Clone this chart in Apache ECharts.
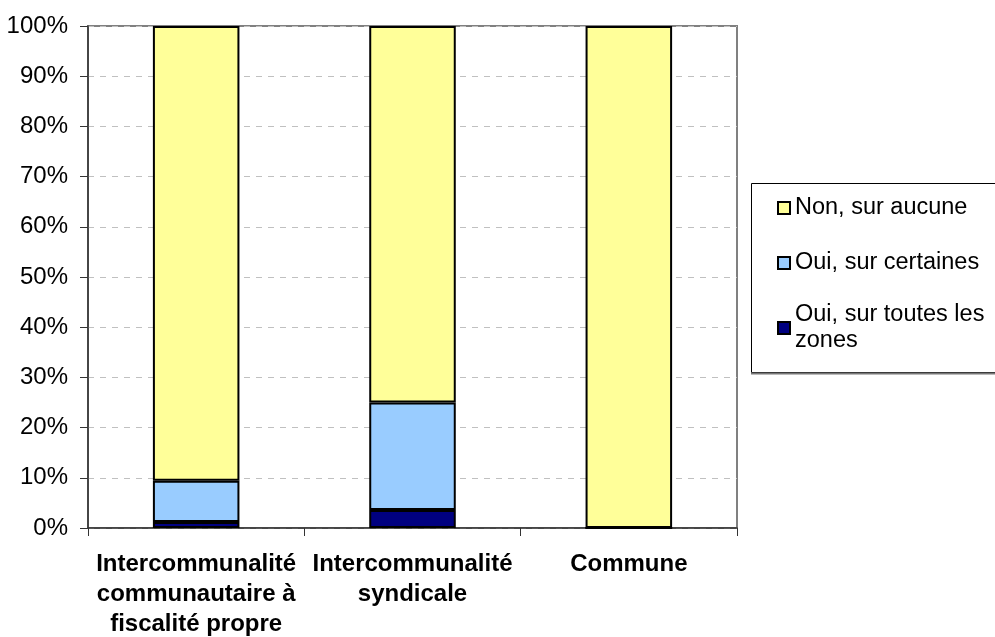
<!DOCTYPE html>
<html>
<head>
<meta charset="utf-8">
<script src="https://cdn.jsdelivr.net/npm/echarts@6/dist/echarts.min.js"></script>
<style>
  html, body { margin: 0; padding: 0; background: #ffffff; }
  #chart { width: 995px; height: 637px; }
</style>
</head>
<body>
<div id="chart"></div>
<script>
// Categories along the horizontal axis
const categories = [
  'Intercommunalité\ncommunautaire à\nfiscalité propre',
  'Intercommunalité\nsyndicale',
  'Commune'
];

// Series names
const nameToutes = 'Oui, sur toutes les zones';
const nameCertaines = 'Oui, sur certaines';
const nameAucune = 'Non, sur aucune';

// Shares in percent (stacked bottom to top)
const ouiToutes = [1.2, 3.6, 0];
const ouiCertaines = [8.2, 21.4, 0];
const nonAucune = [90.6, 75.0, 100];

// Percentage axis
const yMin = 0;
const yMax = 100;
const yStep = 10;

const FONT = 'Arial, "Liberation Sans", sans-serif';

const chart = echarts.init(document.getElementById('chart'), null, { renderer: 'canvas' });

const barBase = {
  type: 'bar',
  stack: 'total',
  barWidth: '40%',
  itemStyle: { borderColor: '#000000', borderWidth: 2 },
  emphasis: { disabled: true }
};

const legendBase = {
  orient: 'vertical',
  left: 777,
  padding: 0,
  itemWidth: 12,
  itemHeight: 12,
  icon: 'rect',
  selectedMode: false,
  textStyle: { fontFamily: FONT, fontSize: 23.5, color: '#000000', lineHeight: 26 }
};

chart.setOption({
  animation: false,
  backgroundColor: '#ffffff',
  textStyle: { fontFamily: FONT },
  grid: {
    left: 88, right: 258, top: 26, bottom: 109,
    outerBoundsMode: 'none',
    show: true,
    borderColor: '#808080',
    borderWidth: 2,
    backgroundColor: 'transparent'
  },
  xAxis: {
    type: 'category',
    data: categories,
    axisLine: { show: true, lineStyle: { color: '#333333', width: 1.5 } },
    axisTick: { show: true, length: 8, interval: 0, lineStyle: { color: '#333333' } },
    axisLabel: {
      interval: 0,
      margin: 21,
      fontFamily: FONT,
      fontSize: 24,
      fontWeight: 'bold',
      lineHeight: 30,
      color: '#000000',
      align: 'center'
    },
    splitLine: { show: false }
  },
  yAxis: {
    type: 'value',
    min: yMin,
    max: yMax,
    interval: yStep,
    axisLine: { show: true, lineStyle: { color: '#333333', width: 1.5 } },
    axisTick: { show: true, length: 8, lineStyle: { color: '#333333' } },
    axisLabel: {
      formatter: '{value}%',
      margin: 20,
      fontFamily: FONT,
      fontSize: 24,
      color: '#000000'
    },
    splitLine: { show: true, lineStyle: { color: '#c0c0c0', type: [6, 6], width: 1 } }
  },
  legend: [
    Object.assign({}, legendBase, { top: 195, data: [nameAucune] }),
    Object.assign({}, legendBase, { top: 250, data: [nameCertaines] }),
    Object.assign({}, legendBase, {
      top: 289,
      data: [nameToutes],
      formatter: () => 'Oui, sur toutes les\nzones',
      textStyle: Object.assign({}, legendBase.textStyle, { padding: [26, 0, 0, 0] })
    })
  ],
  graphic: [
    {
      type: 'rect',
      z: 1,
      shape: { x: 751.5, y: 183.5, width: 260, height: 189 },
      style: { fill: 'none', stroke: '#000000', lineWidth: 1 }
    },
    {
      type: 'line',
      z: 1,
      shape: { x1: 751, y1: 373.5, x2: 1000, y2: 373.5 },
      style: { stroke: '#777777', lineWidth: 2 }
    }
  ],
  series: [
    Object.assign({}, barBase, { name: nameToutes, data: ouiToutes, itemStyle: Object.assign({}, barBase.itemStyle, { color: '#000080' }) }),
    Object.assign({}, barBase, { name: nameCertaines, data: ouiCertaines, itemStyle: Object.assign({}, barBase.itemStyle, { color: '#99ccff' }) }),
    Object.assign({}, barBase, { name: nameAucune, data: nonAucune, itemStyle: Object.assign({}, barBase.itemStyle, { color: '#ffff99' }) })
  ]
});
</script>
</body>
</html>
